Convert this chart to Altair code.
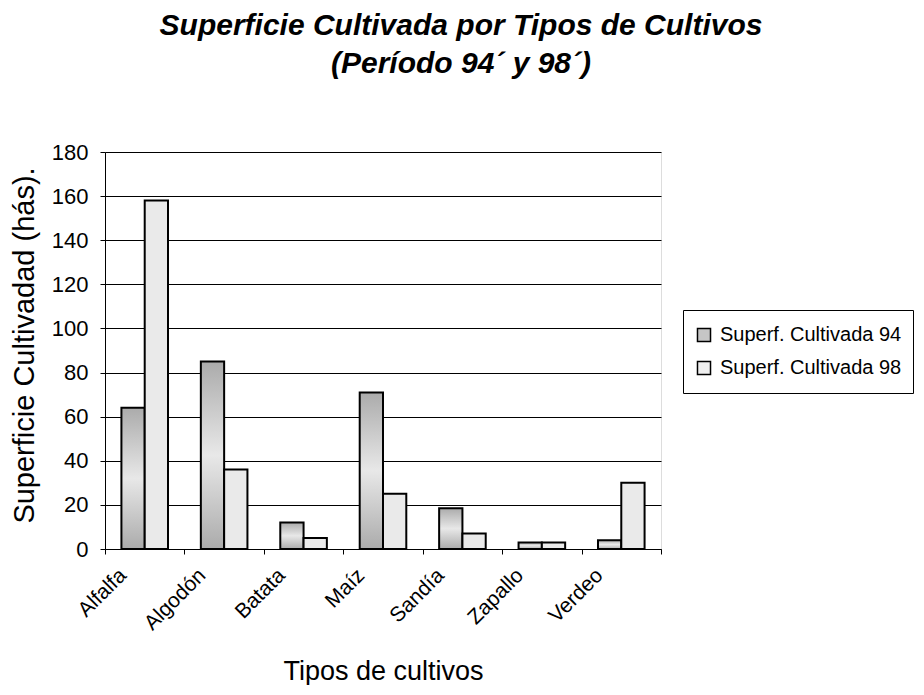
import altair as alt
import pandas as pd

cultivos = ["Alfalfa", "Algodón", "Batata", "Maíz", "Sandía", "Zapallo", "Verdeo"]
sup_94 = [64, 85, 12, 71, 18.5, 3, 4]
sup_98 = [158, 36, 5, 25, 7, 3, 30]
series = ["Superf. Cultivada 94", "Superf. Cultivada 98"]
y_ticks = [0, 20, 40, 60, 80, 100, 120, 140, 160, 180]

rows = []
for c, a, b in zip(cultivos, sup_94, sup_98):
    rows.append({"cultivo": c, "serie": series[0], "valor": a})
    rows.append({"cultivo": c, "serie": series[1], "valor": b})
df = pd.DataFrame(rows)

FONT = "Liberation Sans"

grad94 = {
    "gradient": "linear", "x1": 0, "y1": 0, "x2": 0, "y2": 1,
    "stops": [
        {"offset": 0, "color": "#ababab"},
        {"offset": 0.5, "color": "#e8e8e8"},
        {"offset": 1, "color": "#ababab"},
    ],
}

x_enc = alt.X(
    "cultivo:N", sort=cultivos,
    scale=alt.Scale(paddingInner=0, paddingOuter=0),
    axis=alt.Axis(
        title="Tipos de cultivos", titleFontSize=27, titleFontWeight="normal",
        titleFont=FONT, titleColor="black", titlePadding=25,
        labelAngle=-45, labelAlign="right", labelBaseline="middle",
        labelFontSize=21, labelFont=FONT, labelColor="black",
        tickBand="extent", labelOffset=-22, labelPadding=18,
        tickColor="black", tickSize=5, domainColor="black", grid=False,
    ),
)
xoff_enc = alt.XOffset("serie:N", scale=alt.Scale(domain=series, paddingInner=0, paddingOuter=0.705))
y_enc = alt.Y(
    "valor:Q", scale=alt.Scale(domain=[0, 180]),
    axis=alt.Axis(
        values=y_ticks, title="Superficie Cultivadad (hás).", titleFontSize=29,
        titleFontWeight="normal", titleFont=FONT, titleColor="black", titlePadding=12,
        titleY=193,
        labelFontSize=22, labelFont=FONT, labelColor="black", labelPadding=12,
        grid=True, gridColor="black", gridOpacity=1, gridWidth=1,
        tickColor="black", tickSize=5, domainColor="black",
    ),
)

base = alt.Chart(df)

bars94 = base.transform_filter(alt.datum.serie == series[0]).mark_bar(
    fill=grad94, stroke="black", strokeWidth=2
).encode(x=x_enc, xOffset=xoff_enc, y=y_enc)

bars98 = base.transform_filter(alt.datum.serie == series[1]).mark_bar(
    fill="#eaeaea", stroke="black", strokeWidth=2
).encode(x=x_enc, xOffset=xoff_enc, y=y_enc)

legend_layer = base.mark_square(opacity=0).encode(
    x=x_enc, xOffset=xoff_enc, y=y_enc,
    color=alt.Color(
        "serie:N",
        scale=alt.Scale(domain=series, range=["#c6c6c6", "#efefef"]),
        legend=alt.Legend(
            title=None, orient="none", legendX=578, legendY=158,
            strokeColor="black", fillColor="white", padding=11,
            labelFontSize=20, labelFont=FONT, labelColor="black", labelOffset=6,
            labelLimit=400, clipHeight=28,
            symbolType="square", symbolSize=170, symbolStrokeColor="black",
            symbolStrokeWidth=1.5, symbolOpacity=1, rowPadding=5,
        ),
    ),
)

chart = alt.layer(bars94, bars98, legend_layer).properties(
    width=556, height=397,
    padding={"left": 2, "top": 3, "right": 0, "bottom": 0},
    title=alt.TitleParams(
        ["Superficie Cultivada por Tipos de Cultivos", "(Período 94´ y 98´)"],
        fontSize=30, fontStyle="italic", fontWeight="bold", font=FONT,
        lineHeight=38, anchor="middle", offset=62, dx=78, color="black",
    ),
).configure_view(stroke=None).configure(background="white")

chart.save("out.html", embed_options={"renderer": "svg", "actions": False})
